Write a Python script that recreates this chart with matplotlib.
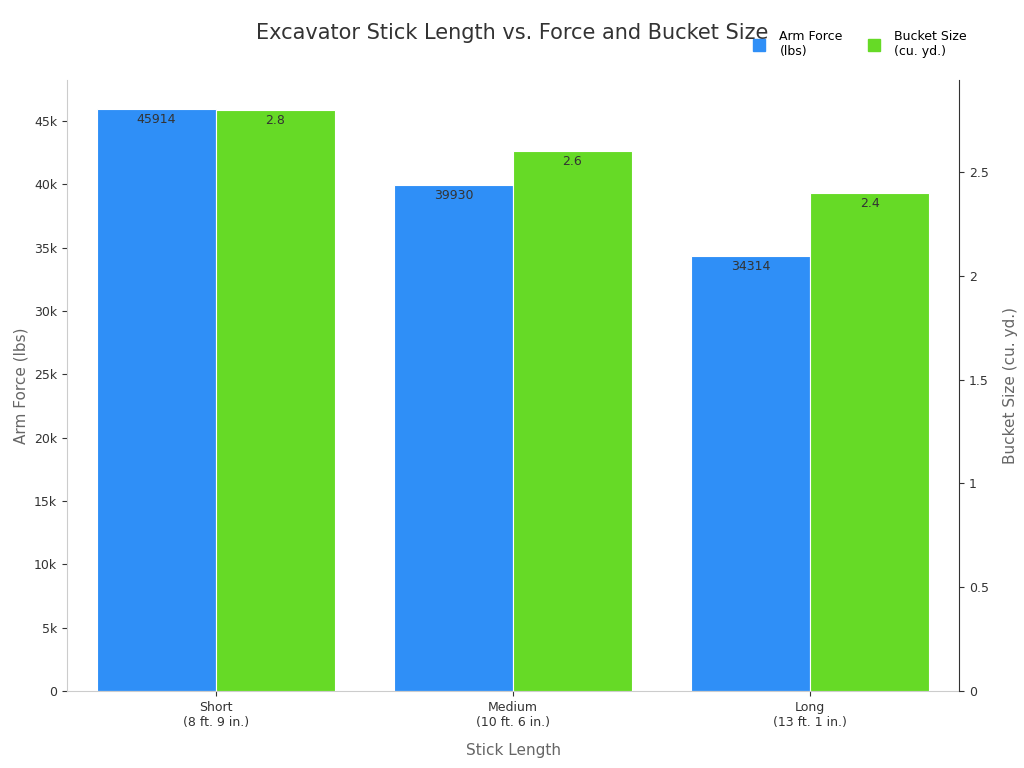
import matplotlib
matplotlib.use("Agg")
import matplotlib.pyplot as plt
import numpy as np

categories = ["Short\n(8 ft. 9 in.)", "Medium\n(10 ft. 6 in.)", "Long\n(13 ft. 1 in.)"]
arm_force = [45914, 39930, 34314]
bucket_size = [2.8, 2.6, 2.4]

BLUE = "#2F8FF7"
GREEN = "#66DA26"
TXT = "#333333"

fig = plt.figure(figsize=(10.24, 7.68), dpi=100)
ax = fig.add_axes([67 / 1024, 1 - 691 / 768, 892 / 1024, 611 / 768])
ax2 = ax.twinx()

x = np.arange(len(categories))
w = 0.4
b1 = ax.bar(x - w / 2, arm_force, w, color=BLUE, edgecolor="white", linewidth=0.8, label="Arm Force\n(lbs)")
b2 = ax2.bar(x + w / 2, bucket_size, w, color=GREEN, edgecolor="white", linewidth=0.8, label="Bucket Size\n(cu. yd.)")

for r, v in zip(b1, arm_force):
    ax.text(r.get_x() + r.get_width() / 2, v - 300, f"{v}", ha="center", va="top", fontsize=9, color=TXT)
for r, v in zip(b2, bucket_size):
    ax2.text(r.get_x() + r.get_width() / 2, v - 0.02, f"{v}", ha="center", va="top", fontsize=9, color=TXT)

ax.set_xlim(-0.5, 2.5)
ax.set_ylim(0, 48240)
ax2.set_ylim(0, 2.943)
ax.set_yticks(range(0, 45001, 5000))
ax.set_yticklabels(["0"] + [f"{k}k" for k in range(5, 46, 5)])
ax2.set_yticks([0, 0.5, 1, 1.5, 2, 2.5])
ax2.set_yticklabels(["0", "0.5", "1", "1.5", "2", "2.5"])
ax.set_xticks(x)
ax.set_xticklabels(categories)

for a in (ax, ax2):
    a.spines["top"].set_visible(False)
    a.tick_params(labelsize=9, colors=TXT)
ax.spines["left"].set_color("#cccccc")
ax.spines["bottom"].set_color("#cccccc")
ax.spines["right"].set_visible(False)
ax2.spines["left"].set_visible(False)
ax2.spines["bottom"].set_visible(False)
ax2.spines["right"].set_color("#333333")

ax.set_xlabel("Stick Length", fontsize=11, color="#666666", labelpad=10)
ax.set_ylabel("Arm Force (lbs)", fontsize=11, color="#666666")
ax2.set_ylabel("Bucket Size (cu. yd.)", fontsize=11, color="#666666", labelpad=10)

fig.text(0.5, 0.957, "Excavator Stick Length vs. Force and Bucket Size", ha="center", va="center",
         fontsize=15, color=TXT)

h = [plt.Line2D([], [], marker="s", linestyle="", color=BLUE, markersize=8),
     plt.Line2D([], [], marker="s", linestyle="", color=GREEN, markersize=8)]
fig.legend(h, ["Arm Force\n(lbs)", "Bucket Size\n(cu. yd.)"], loc="upper right",
           bbox_to_anchor=(0.955, 0.975), ncol=2, frameon=False, fontsize=9,
           handletextpad=0.6, columnspacing=1.5)

fig.savefig("out.png", dpi=100)
